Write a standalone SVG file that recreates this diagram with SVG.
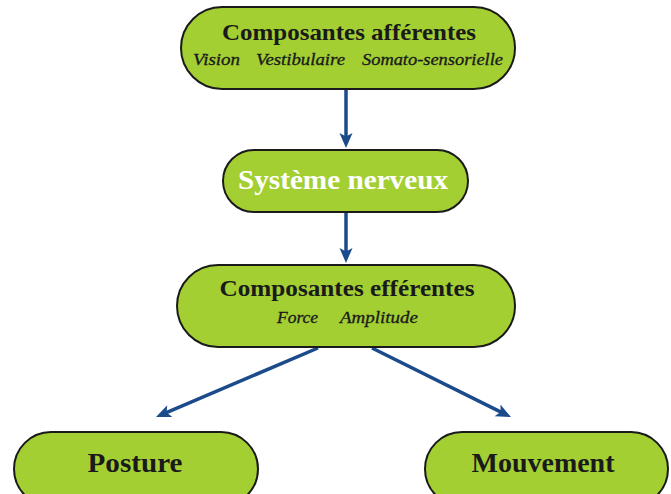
<svg xmlns="http://www.w3.org/2000/svg" width="671" height="494" viewBox="0 0 671 494">
<style>
.node{fill:#a3cf33;stroke:#1a1a1a;stroke-width:2}
.t{font-family:"Liberation Serif","DejaVu Serif",serif;font-weight:bold;fill:#1a1a1a;text-anchor:middle}
.s{font-family:"Liberation Serif","DejaVu Serif",serif;font-style:italic;fill:#1a1a1a;stroke:#1a1a1a;stroke-width:0.3;font-size:16px}
.c{stroke:#1c4b8c;stroke-width:3.5;fill:none;marker-end:url(#ah)}
</style>
<defs>
<marker id="ah" markerWidth="16" markerHeight="14" refX="5" refY="6.5" orient="auto" markerUnits="userSpaceOnUse">
<path d="M0,0 L15,6.5 L0,13 L3.5,6.5 Z" fill="#1c4b8c"/>
</marker>
</defs>
<rect width="671" height="494" fill="#ffffff"/>
<g id="connectors">
<line class="c" x1="346" y1="90" x2="346" y2="138"/>
<line class="c" x1="346" y1="213" x2="346" y2="253"/>
<line class="c" x1="318" y1="348" x2="165.2" y2="413.1"/>
<line class="c" x1="372" y1="348" x2="502" y2="412.6"/>
</g>
<g id="afferentes">
<rect class="node" x="181" y="7" width="334" height="82" rx="41"/>
<text class="t" x="349" y="40" font-size="23" textLength="254" lengthAdjust="spacingAndGlyphs">Composantes afférentes</text>
<text class="s" y="65"><tspan x="193" textLength="47" lengthAdjust="spacingAndGlyphs">Vision</tspan><tspan x="256" textLength="89" lengthAdjust="spacingAndGlyphs">Vestibulaire</tspan><tspan x="362" textLength="141" lengthAdjust="spacingAndGlyphs">Somato-sensorielle</tspan></text>
</g>
<g id="systeme">
<rect class="node" x="223" y="150" width="245" height="62" rx="31"/>
<text class="t" x="343" y="189" font-size="27" style="fill:#ffffff" textLength="210" lengthAdjust="spacingAndGlyphs">Système nerveux</text>
</g>
<g id="efferentes">
<rect class="node" x="177" y="265" width="338" height="82" rx="41"/>
<text class="t" x="347" y="296" font-size="23" textLength="255" lengthAdjust="spacingAndGlyphs">Composantes efférentes</text>
<text class="s" y="323"><tspan x="277" textLength="41" lengthAdjust="spacingAndGlyphs">Force</tspan><tspan x="340" textLength="78" lengthAdjust="spacingAndGlyphs">Amplitude</tspan></text>
</g>
<g id="posture">
<rect class="node" x="14" y="432" width="244" height="74" rx="37"/>
<text class="t" x="135" y="472" font-size="28" textLength="95" lengthAdjust="spacingAndGlyphs">Posture</text>
</g>
<g id="mouvement">
<rect class="node" x="425" y="432" width="243" height="74" rx="37"/>
<text class="t" x="543" y="472" font-size="28" textLength="143" lengthAdjust="spacingAndGlyphs">Mouvement</text>
</g>
</svg>
